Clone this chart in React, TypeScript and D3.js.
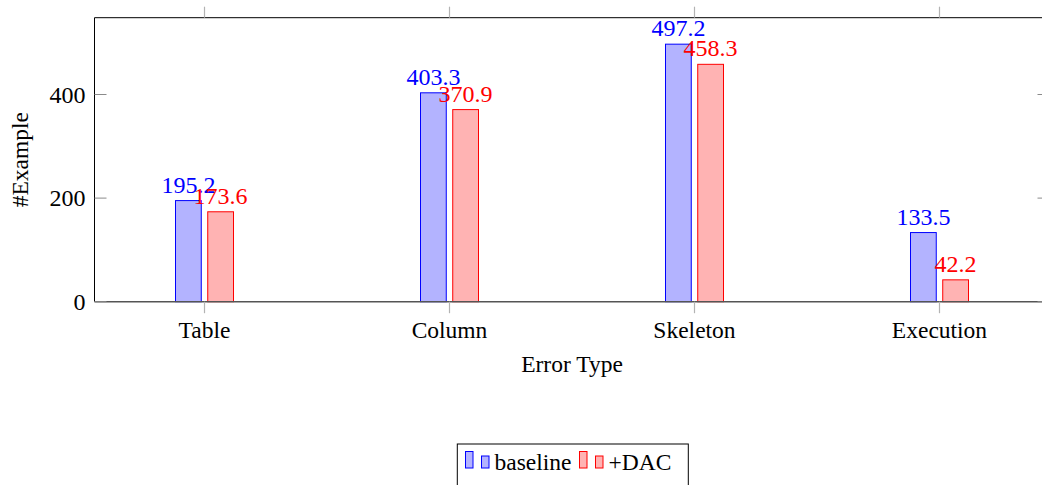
import React from "react";
import * as d3 from "d3";

const categories = ["Table", "Column", "Skeleton", "Execution"];
const seriesNames = ["baseline", "+DAC"];
const baselineValues = [195.2, 403.3, 497.2, 133.5];
const dacValues = [173.6, 370.9, 458.3, 42.2];
const yTicks = [0, 200, 400];

const W = 1042;
const H = 485;
const left = 94.5;
const right = 1049.5;
const top = 17.7;
const bottom = 301.7;
const FONT = "Liberation Serif";

const colors = [
  { fill: "#b3b3ff", stroke: "#0000ff", text: "#0000ff" },
  { fill: "#ffb3b3", stroke: "#ff0000", text: "#ff0000" },
];

const tStyle: React.CSSProperties = { fontFamily: FONT, fontSize: 23.5 };
const nStyle: React.CSSProperties = { fontFamily: FONT, fontSize: 24 };

export default function App() {
  const x = d3.scalePoint<string>().domain(categories).range([left, right]).padding(0.449);
  const inner = d3.scaleBand<string>().domain(seriesNames).range([-29.5, 29.5]).paddingInner(0.17);
  const y = d3.scaleLinear().domain([0, 548.3]).range([bottom, top]);
  const data = [baselineValues, dacValues];
  const bw = inner.bandwidth();

  return (
    <div style={{ position: "absolute", left: 0, top: 0, width: W, height: H, overflow: "hidden", background: "#fff" }}>
      <svg width={1070} height={H} style={{ display: "block" }}>
        {/* bars */}
        {data.map((vals, si) =>
          vals.map((v, ci) => {
            const cx = (x(categories[ci]) as number) + (inner(seriesNames[si]) as number);
            return (
              <g key={`b${si}-${ci}`}>
                <rect
                  x={cx + 0.5}
                  y={y(v)}
                  width={bw - 1}
                  height={y(0) - y(v)}
                  fill={colors[si].fill}
                  stroke={colors[si].stroke}
                  strokeWidth={1}
                />
                <text
                  x={cx + bw / 2}
                  y={y(v) - 8}
                  textAnchor="middle"
                  style={nStyle}
                  fill={colors[si].text}
                >
                  {v.toFixed(1)}
                </text>
              </g>
            );
          })
        )}
        {/* frame */}
        <line x1={left} x2={right} y1={top} y2={top} stroke="#000" strokeWidth={1} />
        <line x1={left} x2={left} y1={top} y2={bottom} stroke="#000" strokeWidth={1} />
        <line x1={right} x2={right} y1={top} y2={bottom} stroke="#000" strokeWidth={1} />
        <line x1={left} x2={right} y1={bottom} y2={bottom} stroke="#555" strokeWidth={1.5} />
        {/* category ticks */}
        {categories.map((c) => (
          <g key={c}>
            <line x1={x(c)} x2={x(c)} y1={top - 11} y2={top} stroke="#b3b3b3" strokeWidth={1.2} />
            <line x1={x(c)} x2={x(c)} y1={bottom} y2={bottom + 11.5} stroke="#b3b3b3" strokeWidth={1.2} />
            <text x={x(c)} y={338} textAnchor="middle" style={tStyle} fill="#000">
              {c}
            </text>
          </g>
        ))}
        {/* y ticks */}
        {yTicks.map((t) => (
          <g key={t}>
            <line x1={left} x2={left + 12} y1={y(t)} y2={y(t)} stroke="#8a8a8a" strokeWidth={1} />
            <line x1={right - 12} x2={right} y1={y(t)} y2={y(t)} stroke="#8a8a8a" strokeWidth={1} />
            <text x={left - 9} y={y(t) + 8} textAnchor="end" style={nStyle} fill="#000">
              {t}
            </text>
          </g>
        ))}
        {/* axis titles */}
        <text x={(left + right) / 2} y={371.5} textAnchor="middle" style={tStyle} fill="#000">
          Error Type
        </text>
        <text
          transform={`translate(28, ${(top + bottom) / 2}) rotate(-90)`}
          textAnchor="middle"
          style={tStyle}
          fill="#000"
        >
          #Example
        </text>
        {/* legend */}
        <rect x={457.3} y={444} width={231} height={60} fill="#fff" stroke="#000" strokeWidth={1} />
        {[0, 1].map((si) => {
          const bx = si === 0 ? 465 : 579;
          const tx = si === 0 ? 494.5 : 608.5;
          return (
            <g key={`lg${si}`}>
              <rect x={bx + 0.5} y={451.5} width={7.5} height={16.5} fill={colors[si].fill} stroke={colors[si].stroke} strokeWidth={1} />
              <rect x={bx + 16.5} y={456} width={7.5} height={12} fill={colors[si].fill} stroke={colors[si].stroke} strokeWidth={1} />
              <text x={tx} y={469.5} style={tStyle} fill="#000">
                {seriesNames[si]}
              </text>
            </g>
          );
        })}
      </svg>
    </div>
  );
}
